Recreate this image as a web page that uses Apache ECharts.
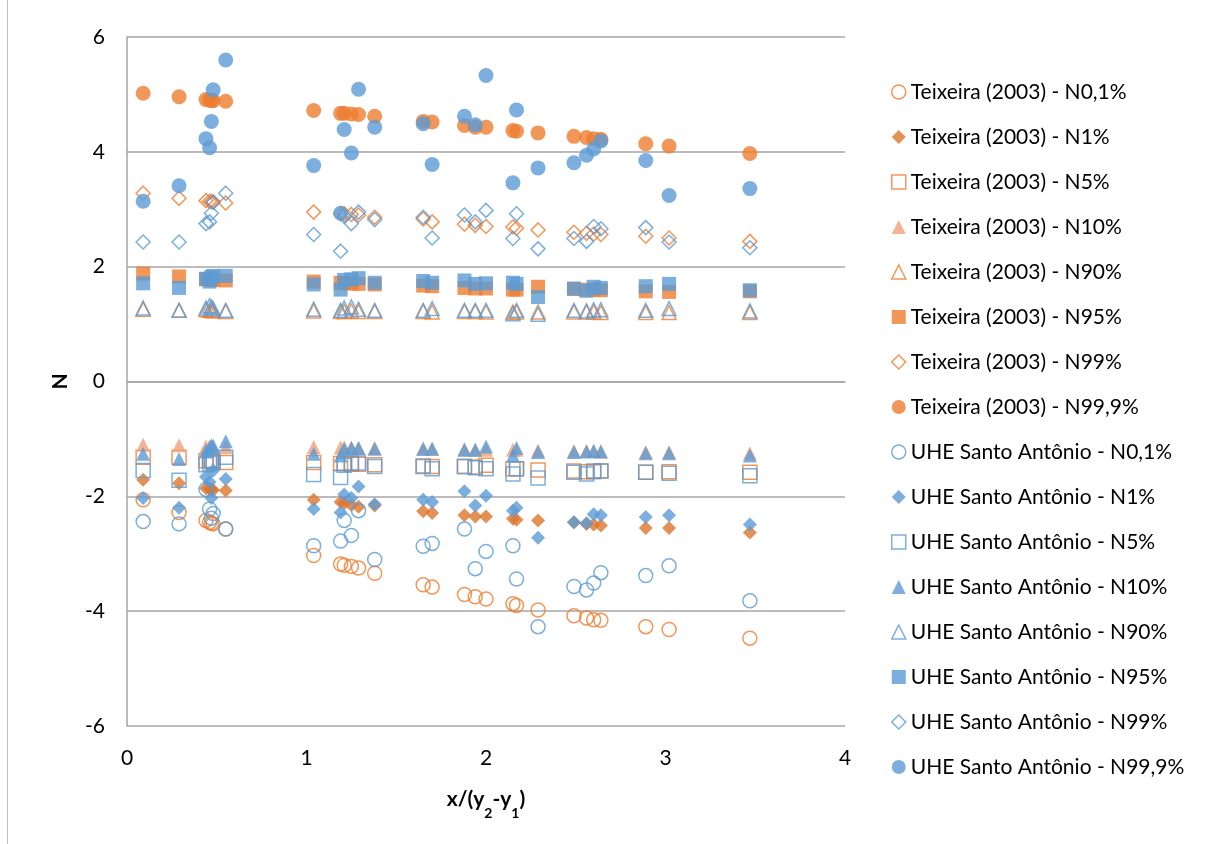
<!DOCTYPE html>
<html>
<head>
<meta charset="utf-8">
<script src="https://cdn.jsdelivr.net/npm/echarts@6/dist/echarts.min.js"></script>
<style>
  html, body { margin: 0; padding: 0; background: #fff; }
  #chart { width: 1216px; height: 844px; }
</style>
</head>
<body>
<div id="chart"></div>
<script>
// Relative distance x/(y2-y1), shared by both data sets
const xRatio = [0.09, 0.29, 0.44, 0.46, 0.47, 0.48, 0.55, 1.04, 1.19, 1.21, 1.25, 1.29, 1.38, 1.65, 1.70, 1.88, 1.94, 2.00, 2.15, 2.17, 2.29, 2.49, 2.56, 2.60, 2.64, 2.89, 3.02, 3.47];

// Teixeira (2003)
const teixN01  = [-2.06, -2.28, -2.42, -2.45, -2.47, -2.48, -2.57, -3.03, -3.18, -3.20, -3.22, -3.25, -3.34, -3.54, -3.58, -3.71, -3.75, -3.79, -3.87, -3.90, -3.98, -4.08, -4.12, -4.15, -4.16, -4.27, -4.32, -4.47];
const teixN1   = [-1.71, -1.77, -1.86, -1.87, -1.88, -1.89, -1.90, -2.06, -2.10, -2.12, -2.15, -2.18, -2.16, -2.26, -2.29, -2.33, -2.35, -2.35, -2.39, -2.41, -2.42, -2.45, -2.48, -2.49, -2.51, -2.55, -2.55, -2.63];
const teixN5   = [-1.32, -1.32, -1.38, -1.37, -1.39, -1.40, -1.41, -1.41, -1.43, -1.43, -1.44, -1.44, -1.45, -1.47, -1.48, -1.48, -1.49, -1.46, -1.52, -1.52, -1.54, -1.56, -1.57, -1.57, -1.56, -1.58, -1.57, -1.58];
const teixN10  = [-1.10, -1.11, -1.13, -1.13, -1.14, -1.14, -1.14, -1.14, -1.15, -1.15, -1.15, -1.16, -1.16, -1.17, -1.17, -1.18, -1.19, -1.19, -1.19, -1.19, -1.20, -1.21, -1.21, -1.21, -1.22, -1.23, -1.23, -1.25];
const teixN90  = [1.26, 1.24, 1.25, 1.24, 1.24, 1.23, 1.22, 1.23, 1.22, 1.22, 1.23, 1.22, 1.22, 1.22, 1.21, 1.22, 1.22, 1.21, 1.21, 1.21, 1.21, 1.21, 1.21, 1.21, 1.20, 1.20, 1.20, 1.20];
const teixN95  = [1.88, 1.83, 1.78, 1.78, 1.77, 1.77, 1.76, 1.74, 1.72, 1.71, 1.71, 1.70, 1.69, 1.67, 1.66, 1.63, 1.62, 1.62, 1.60, 1.60, 1.65, 1.61, 1.60, 1.60, 1.59, 1.57, 1.56, 1.57];
const teixN99  = [3.28, 3.19, 3.15, 3.14, 3.13, 3.13, 3.11, 2.95, 2.92, 2.92, 2.91, 2.90, 2.86, 2.83, 2.78, 2.74, 2.72, 2.70, 2.69, 2.67, 2.64, 2.60, 2.58, 2.57, 2.56, 2.53, 2.50, 2.44];
const teixN999 = [5.02, 4.96, 4.91, 4.90, 4.90, 4.89, 4.88, 4.72, 4.67, 4.67, 4.66, 4.65, 4.62, 4.53, 4.52, 4.46, 4.43, 4.43, 4.37, 4.36, 4.33, 4.27, 4.25, 4.23, 4.22, 4.14, 4.10, 3.97];

// UHE Santo Antônio
const uheN01  = [-2.44, -2.48, -1.88, -2.22, -2.38, -2.30, -2.57, -2.86, -2.78, -2.42, -2.68, -2.25, -3.10, -2.87, -2.82, -2.57, -3.26, -2.96, -2.86, -3.44, -4.27, -3.57, -3.63, -3.51, -3.33, -3.38, -3.21, -3.82];
const uheN1   = [-2.03, -2.20, -1.66, -1.75, -2.03, -1.55, -1.70, -2.22, -2.28, -1.97, -2.03, -1.83, -2.14, -2.06, -2.10, -1.91, -2.16, -1.99, -2.25, -2.20, -2.72, -2.45, -2.47, -2.31, -2.33, -2.36, -2.33, -2.49];
const uheN5   = [-1.55, -1.72, -1.45, -1.43, -1.38, -1.40, -1.32, -1.62, -1.67, -1.46, -1.42, -1.42, -1.48, -1.48, -1.52, -1.48, -1.50, -1.52, -1.61, -1.52, -1.68, -1.58, -1.61, -1.56, -1.56, -1.58, -1.60, -1.64];
const uheN10  = [-1.26, -1.35, -1.20, -1.15, -1.11, -1.12, -1.04, -1.26, -1.29, -1.17, -1.16, -1.16, -1.17, -1.17, -1.17, -1.19, -1.19, -1.13, -1.29, -1.16, -1.23, -1.23, -1.22, -1.21, -1.22, -1.25, -1.25, -1.29];
const uheN90  = [1.28, 1.24, 1.28, 1.32, 1.30, 1.27, 1.24, 1.26, 1.24, 1.28, 1.30, 1.26, 1.24, 1.24, 1.27, 1.24, 1.24, 1.24, 1.18, 1.24, 1.17, 1.24, 1.23, 1.25, 1.25, 1.24, 1.27, 1.23];
const uheN95  = [1.71, 1.63, 1.79, 1.74, 1.82, 1.84, 1.84, 1.69, 1.60, 1.77, 1.78, 1.80, 1.72, 1.75, 1.72, 1.76, 1.70, 1.71, 1.72, 1.70, 1.47, 1.62, 1.58, 1.65, 1.63, 1.66, 1.70, 1.59];
const uheN99  = [2.43, 2.43, 2.75, 2.78, 2.93, 3.12, 3.28, 2.56, 2.27, 2.88, 2.75, 2.95, 2.82, 2.86, 2.50, 2.90, 2.78, 2.98, 2.49, 2.92, 2.31, 2.49, 2.44, 2.70, 2.66, 2.68, 2.43, 2.33];
const uheN999 = [3.14, 3.41, 4.23, 4.07, 4.53, 5.08, 5.60, 3.76, 2.93, 4.39, 3.98, 5.09, 4.43, 4.49, 3.78, 4.62, 4.47, 5.33, 3.46, 4.73, 3.72, 3.81, 3.94, 4.05, 4.19, 3.85, 3.24, 3.36];

const ORANGE = '#ED7D31', ORANGE_DARK = '#DD762E', ORANGE_LIGHT = '#F2A07A', BLUE = '#5B9BD5';

// name, values, marker shape, colour, hollow?
const seriesDefs = [
  ['Teixeira (2003) - N0,1%',  teixN01,  'circle',   ORANGE,       true],
  ['Teixeira (2003) - N1%',    teixN1,   'diamond',  ORANGE_DARK,  false],
  ['Teixeira (2003) - N5%',    teixN5,   'rect',     ORANGE,       true],
  ['Teixeira (2003) - N10%',   teixN10,  'triangle', ORANGE_LIGHT, false],
  ['Teixeira (2003) - N90%',   teixN90,  'triangle', ORANGE,       true],
  ['Teixeira (2003) - N95%',   teixN95,  'rect',     ORANGE,       false],
  ['Teixeira (2003) - N99%',   teixN99,  'diamond',  ORANGE,       true],
  ['Teixeira (2003) - N99,9%', teixN999, 'circle',   ORANGE,       false],
  ['UHE Santo Antônio - N0,1%',  uheN01,  'circle',   BLUE, true],
  ['UHE Santo Antônio - N1%',    uheN1,   'diamond',  BLUE, false],
  ['UHE Santo Antônio - N5%',    uheN5,   'rect',     BLUE, true],
  ['UHE Santo Antônio - N10%',   uheN10,  'triangle', BLUE, false],
  ['UHE Santo Antônio - N90%',   uheN90,  'triangle', BLUE, true],
  ['UHE Santo Antônio - N95%',   uheN95,  'rect',     BLUE, false],
  ['UHE Santo Antônio - N99%',   uheN99,  'diamond',  BLUE, true],
  ['UHE Santo Antônio - N99,9%', uheN999, 'circle',   BLUE, false]
];

function markerStyle(color, hollow) {
  return hollow
    ? { color: 'rgba(255,255,255,0)', borderColor: color, borderWidth: 1.5 }
    : { color: color, borderWidth: 0 };
}

const FONT = 'Lato, "Open Sans", sans-serif';

const series = seriesDefs.map(([name, values, shape, color, hollow]) => ({
  name: name,
  type: 'scatter',
  symbol: shape,
  symbolSize: shape === 'circle' && !hollow ? 15 : 14,
  itemStyle: markerStyle(color, hollow),
  emphasis: { disabled: true },
  data: values.map((v, i) => [xRatio[i], v])
}));

const legendData = seriesDefs.map(([name, values, shape, color, hollow]) => ({
  name: name,
  icon: shape,
  itemStyle: markerStyle(color, hollow)
}));

const chart = echarts.init(document.getElementById('chart'), null, { renderer: 'canvas' });
chart.setOption({
  animation: false,
  backgroundColor: '#fff',
  textStyle: { fontFamily: FONT },
  grid: { left: 127, right: 371, top: 37, bottom: 118, containLabel: false },
  xAxis: {
    type: 'value', min: 0, max: 4, interval: 1,
    name: '{b|x/(y}{s|2}{b|-y}{s|1}{b|)}',
    nameLocation: 'middle', nameGap: 60,
    nameTextStyle: {
      rich: {
        b: { fontFamily: FONT, fontSize: 21, fontWeight: 'bold', color: '#000', lineHeight: 26, verticalAlign: 'middle' },
        s: { fontFamily: FONT, fontSize: 14, fontWeight: 'bold', color: '#000', lineHeight: 26, verticalAlign: 'bottom', padding: [0, 0, -8, 0] }
      }
    },
    axisLine: { show: true, lineStyle: { color: '#A6A6A6', width: 1.5 } },
    axisTick: { show: false },
    splitLine: { show: false },
    axisLabel: { fontFamily: FONT, fontSize: 21, color: '#000', margin: 22 }
  },
  yAxis: {
    type: 'value', min: -6, max: 6, interval: 2,
    name: 'N', nameLocation: 'middle', nameGap: 56, nameRotate: 90,
    nameTextStyle: { fontFamily: FONT, fontSize: 21, fontWeight: 'bold', color: '#000' },
    axisLine: { show: true, lineStyle: { color: '#A6A6A6', width: 1.5 } },
    axisTick: { show: false },
    splitLine: { show: true, lineStyle: { color: '#A6A6A6', width: 1.5 } },
    axisLabel: { fontFamily: FONT, fontSize: 21, color: '#000', margin: 22 }
  },
  legend: {
    orient: 'vertical', left: 886, top: 76,
    itemWidth: 14, itemHeight: 14, itemGap: 23,
    textStyle: { fontFamily: FONT, fontSize: 21, color: '#000', lineHeight: 22 },
    selectedMode: false,
    data: legendData
  },
  graphic: [{
    type: 'line', silent: true,
    shape: { x1: 7.5, y1: 0, x2: 7.5, y2: 844 },
    style: { stroke: '#BFBFBF', lineWidth: 1 }
  }],
  series: series
});
</script>
</body>
</html>
